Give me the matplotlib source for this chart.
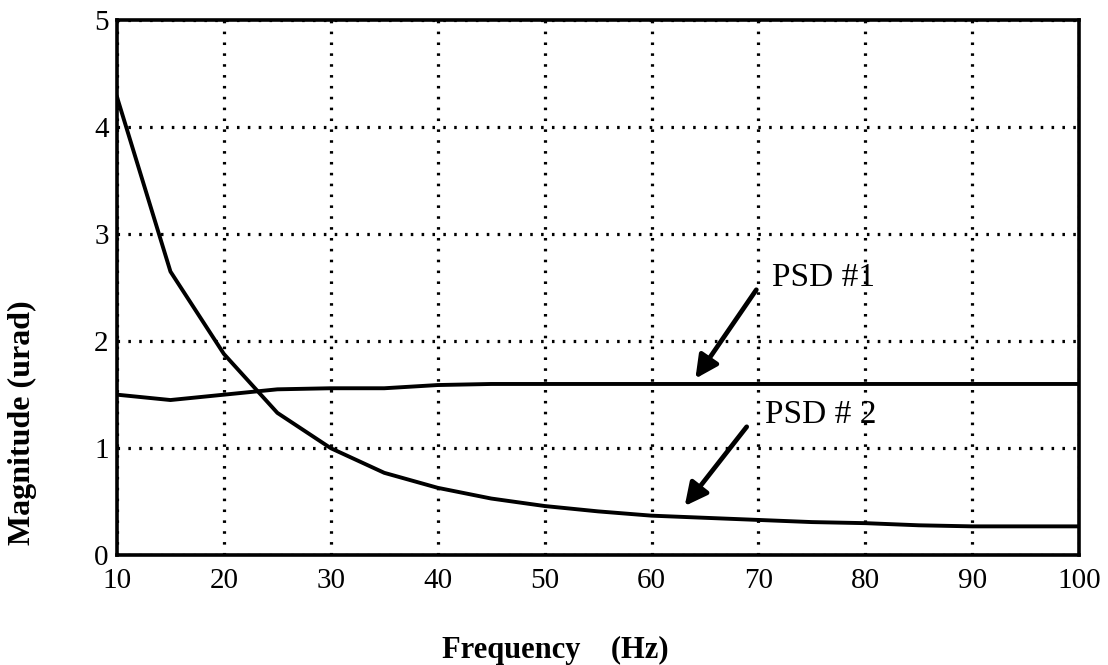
import matplotlib.pyplot as plt

# Data
freq = [10, 15, 20, 25, 30, 35, 40, 45, 50, 55, 60, 65, 70, 75, 80, 85, 90, 95, 100]
psd1 = [1.50, 1.45, 1.50, 1.55, 1.56, 1.56, 1.59, 1.60, 1.60, 1.60, 1.60, 1.60,
        1.60, 1.60, 1.60, 1.60, 1.60, 1.60, 1.60]
psd2 = [4.28, 2.65, 1.88, 1.33, 1.00, 0.77, 0.63, 0.53, 0.46, 0.41, 0.37, 0.35,
        0.33, 0.31, 0.30, 0.28, 0.27, 0.27, 0.27]
xticks = [10, 20, 30, 40, 50, 60, 70, 80, 90, 100]
yticks = [0, 1, 2, 3, 4, 5]

plt.rcParams['font.family'] = ['Liberation Serif', 'DejaVu Serif']

fig = plt.figure(figsize=(11.08, 6.65), dpi=100)
ax = fig.add_axes([0.1056, 0.165, 0.8684, 0.805])

ax.plot(freq, psd1, color='black', lw=2.8, solid_joinstyle='round')
ax.plot(freq, psd2, color='black', lw=2.8, solid_joinstyle='round')

ax.set_xlim(10, 100)
ax.set_ylim(0, 5)
ax.set_xticks(xticks)
ax.set_yticks(yticks)
ax.tick_params(length=0, labelsize=21, pad=6)
ax.tick_params(axis='x', pad=9)
ax.grid(True, color='black', lw=2.3, linestyle=(0, (0.8, 2.6)))
for s in ax.spines.values():
    s.set_linewidth(2.6)
# the "0" sits a touch above the bottom axis line in the reference
ax.get_yticklabels()[0].set_verticalalignment('center_baseline')

# annotations
arrow = dict(arrowstyle='-|>', color='black', lw=3.4, mutation_scale=34,
             shrinkA=0, shrinkB=0)
ax.annotate('', xy=(64.1, 1.65), xytext=(69.8, 2.48), arrowprops=arrow)
ax.annotate('', xy=(63.1, 0.46), xytext=(68.9, 1.20), arrowprops=arrow)
ax.text(71.3, 2.59, 'PSD #1', fontsize=24, va='center', ha='left')
ax.text(70.6, 1.31, 'PSD # 2', fontsize=24, va='center', ha='left')

fig.text(555 / 1108, 1 - 650 / 665, 'Frequency    (Hz)', fontsize=22,
         fontweight='bold', ha='center', va='center')
fig.text(22 / 1108, 1 - 423 / 665, 'Magnitude (urad)', fontsize=23,
         fontweight='bold', ha='center', va='center', rotation=90)

fig.savefig('out.png', dpi=100)
